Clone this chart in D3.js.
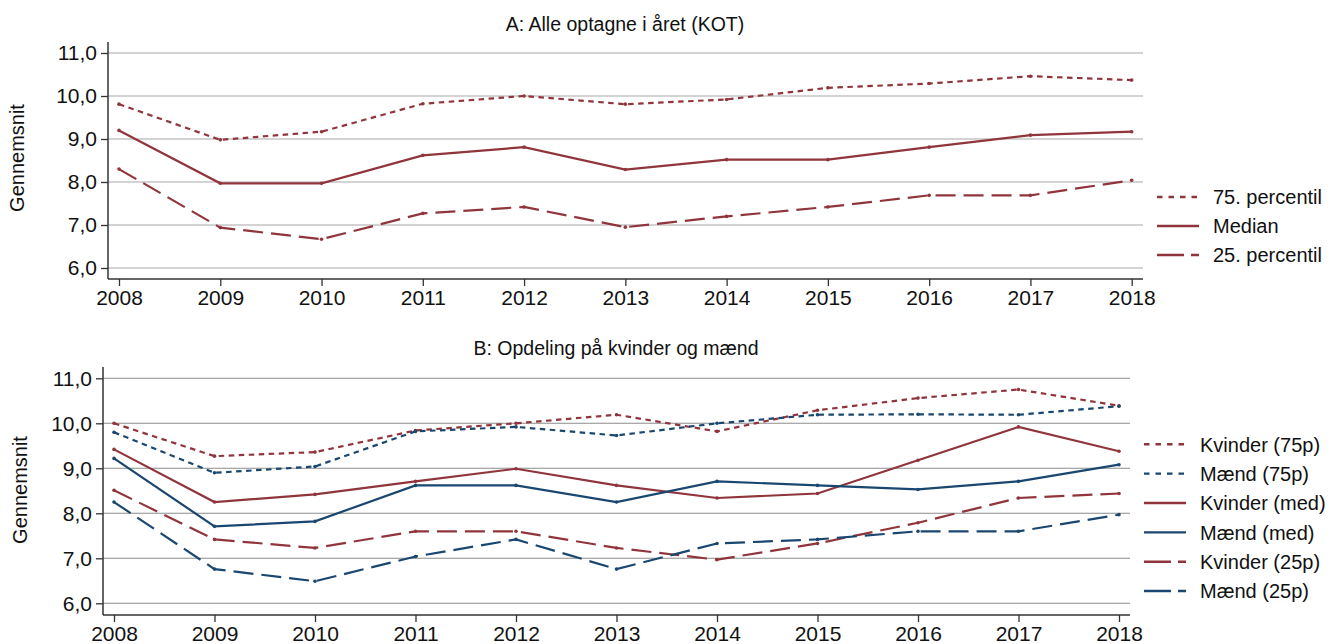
<!DOCTYPE html>
<html>
<head>
<meta charset="utf-8">
<script src="https://cdn.jsdelivr.net/npm/d3@7"></script>
<style>
  body { margin: 0; background: #fff; }
  svg { display: block; font-family: Arial, "Liberation Sans", sans-serif; }
</style>
</head>
<body>
<svg width="1340" height="644"></svg>
<script>
const YEARS = [2008, 2009, 2010, 2011, 2012, 2013, 2014, 2015, 2016, 2017, 2018]
const Y_TICKS = [6, 7, 8, 9, 10, 11]

// Panel A
const ALL_P75 = [9.81, 8.98, 9.17, 9.82, 10.0, 9.81, 9.92, 10.19, 10.29, 10.46, 10.37]
const ALL_MED = [9.2, 7.97, 7.97, 8.62, 8.81, 8.29, 8.52, 8.52, 8.81, 9.09, 9.17]
const ALL_P25 = [8.3, 6.94, 6.67, 7.27, 7.42, 6.95, 7.2, 7.42, 7.69, 7.69, 8.04]

// Panel B
const KV_P75 = [10.0, 9.27, 9.36, 9.84, 10.0, 10.19, 9.82, 10.29, 10.56, 10.75, 10.39]
const MA_P75 = [9.8, 8.9, 9.04, 9.82, 9.92, 9.73, 10.0, 10.19, 10.2, 10.19, 10.38]
const KV_MED = [9.42, 8.25, 8.42, 8.71, 8.99, 8.62, 8.34, 8.44, 9.18, 9.92, 9.38]
const MA_MED = [9.22, 7.71, 7.82, 8.62, 8.62, 8.25, 8.71, 8.62, 8.53, 8.71, 9.08]
const KV_P25 = [8.51, 7.42, 7.23, 7.6, 7.6, 7.23, 6.97, 7.33, 7.79, 8.34, 8.44]
const MA_P25 = [8.25, 6.76, 6.49, 7.04, 7.42, 6.76, 7.33, 7.42, 7.6, 7.6, 7.97]

const RED = "#90353b"
const BLUE = "#1a476f"
const SHORT_DASH = "5.5,4.5"
const LONG_DASH = "20,8"

const fmt = (d) => d.toFixed(1).replace(".", ",")

const svg = d3.select("svg")

const drawPanel = (cfg) => {
  const x = d3.scaleLinear().domain([2008, 2018]).range(cfg.xRange)
  const y = d3.scaleLinear().domain([6, 11]).range(cfg.yRange)
  const g = svg.append("g")

  // gridlines
  g.selectAll("line.grid")
    .data(Y_TICKS)
    .enter()
    .append("line")
    .attr("x1", cfg.left)
    .attr("x2", cfg.right)
    .attr("y1", (d) => y(d))
    .attr("y2", (d) => y(d))
    .attr("stroke", cfg.gridColor)
    .attr("stroke-width", cfg.gridWidth)

  // y axis
  const yAxis = g.append("g")
    .attr("transform", `translate(${cfg.left},0)`)
    .call(d3.axisLeft(y).tickValues(Y_TICKS).tickFormat(fmt).tickSize(7).tickPadding(4))
  yAxis.select(".domain").remove()
  yAxis.selectAll("line").attr("stroke", "#333").attr("stroke-width", 1.3)
  yAxis.selectAll("text").attr("font-size", 21).attr("fill", "#111").attr("font-family", null)

  // x axis
  const xAxis = g.append("g")
    .attr("transform", `translate(0,${cfg.bottom})`)
    .call(d3.axisBottom(x).tickValues(YEARS).tickFormat(d3.format("d")).tickSize(7).tickPadding(4))
  xAxis.select(".domain").remove()
  xAxis.selectAll("line").attr("stroke", "#333").attr("stroke-width", 1.3)
  xAxis.selectAll("text").attr("font-size", 21).attr("fill", "#111").attr("font-family", null)

  // axis lines
  g.append("line")
    .attr("x1", cfg.left).attr("x2", cfg.left)
    .attr("y1", cfg.top).attr("y2", cfg.bottom)
    .attr("stroke", "#333").attr("stroke-width", 1.5)
  g.append("line")
    .attr("x1", cfg.left).attr("x2", cfg.right)
    .attr("y1", cfg.bottom).attr("y2", cfg.bottom)
    .attr("stroke", "#333").attr("stroke-width", 1.5)

  // series
  const line = d3.line().x((d, i) => x(YEARS[i])).y((d) => y(d))
  cfg.series.forEach((s) => {
    g.append("path")
      .datum(s.values)
      .attr("d", line)
      .attr("fill", "none")
      .attr("stroke", s.color)
      .attr("stroke-width", 2.2)
      .attr("stroke-dasharray", s.dash)
    g.selectAll(null)
      .data(s.values)
      .enter()
      .append("circle")
      .attr("cx", (d, i) => x(YEARS[i]))
      .attr("cy", (d) => y(d))
      .attr("r", 1.8)
      .attr("fill", s.color)
  })

  // title
  g.append("text")
    .attr("x", cfg.titleX)
    .attr("y", cfg.titleY)
    .attr("text-anchor", "middle")
    .attr("font-size", 19.5)
    .attr("fill", "#111")
    .text(cfg.title)

  // y label
  g.append("text")
    .attr("transform", `translate(${cfg.ylabX},${cfg.ylabY}) rotate(-90)`)
    .attr("text-anchor", "middle")
    .attr("font-size", 20)
    .attr("fill", "#111")
    .text("Gennemsnit")

  // legend
  const leg = g.selectAll("g.leg")
    .data(cfg.series)
    .enter()
    .append("g")
    .attr("transform", (d, i) => `translate(${cfg.legX},${cfg.legY + i * cfg.legStep})`)
  leg.append("line")
    .attr("x1", 0).attr("x2", 42)
    .attr("stroke", (d) => d.color)
    .attr("stroke-width", 2.4)
    .attr("stroke-dasharray", (d) => d.legDash)
  leg.append("text")
    .attr("x", 56)
    .attr("dy", "0.36em")
    .attr("font-size", 20)
    .attr("fill", "#111")
    .text((d) => d.name)
}

drawPanel({
  title: "A: Alle optagne i året (KOT)",
  titleX: 625, titleY: 31,
  left: 108, right: 1143, top: 42, bottom: 279,
  xRange: [119, 1131.7], yRange: [268, 53],
  gridColor: "#c4c4c4", gridWidth: 1.6,
  ylabX: 24, ylabY: 158,
  legX: 1157, legY: 197, legStep: 29,
  series: [
    { name: "75. percentil", values: ALL_P75, color: RED, dash: SHORT_DASH, legDash: "5.5,6" },
    { name: "Median", values: ALL_MED, color: RED, dash: null, legDash: null },
    { name: "25. percentil", values: ALL_P25, color: RED, dash: LONG_DASH, legDash: "27,7" },
  ],
})

drawPanel({
  title: "B: Opdeling på kvinder og mænd",
  titleX: 616, titleY: 355,
  left: 103, right: 1130, top: 367, bottom: 615,
  xRange: [114, 1119], yRange: [603.3, 378.3],
  gridColor: "#8c8c8c", gridWidth: 1.1,
  ylabX: 27, ylabY: 490,
  legX: 1144, legY: 444.3, legStep: 29.35,
  series: [
    { name: "Kvinder (75p)", values: KV_P75, color: RED, dash: SHORT_DASH, legDash: "5.5,6" },
    { name: "Mænd (75p)", values: MA_P75, color: BLUE, dash: SHORT_DASH, legDash: "5.5,6" },
    { name: "Kvinder (med)", values: KV_MED, color: RED, dash: null, legDash: null },
    { name: "Mænd (med)", values: MA_MED, color: BLUE, dash: null, legDash: null },
    { name: "Kvinder (25p)", values: KV_P25, color: RED, dash: LONG_DASH, legDash: "27,7" },
    { name: "Mænd (25p)", values: MA_P25, color: BLUE, dash: LONG_DASH, legDash: "27,7" },
  ],
})
</script>
</body>
</html>
